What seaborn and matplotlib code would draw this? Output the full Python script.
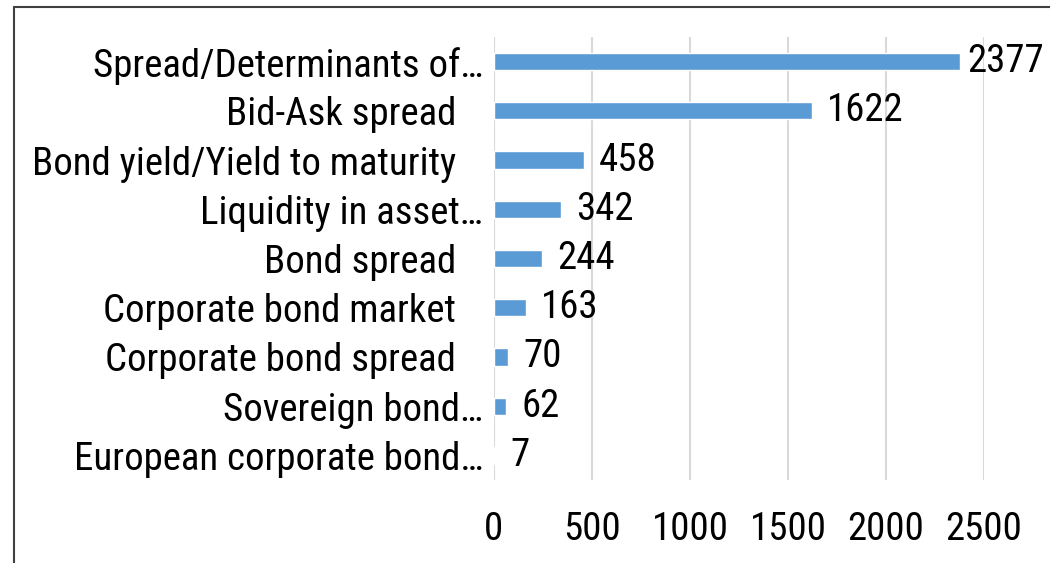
import matplotlib
matplotlib.use("Agg")
import matplotlib.pyplot as plt
import seaborn as sns
import pandas as pd
from matplotlib.lines import Line2D

topics = [
    "Spread/Determinants of\u2026",
    "Bid-Ask spread   ",
    "Bond yield/Yield to maturity   ",
    "Liquidity in asset\u2026",
    "Bond spread   ",
    "Corporate bond market   ",
    "Corporate bond spread   ",
    "Sovereign bond\u2026",
    "European corporate bond\u2026",
]
counts = [2377, 1622, 458, 342, 244, 163, 70, 62, 7]
x_ticks = [0, 500, 1000, 1500, 2000, 2500]

df = pd.DataFrame({"topic": topics, "count": counts})

sns.set_theme(style="white")
plt.rcParams["font.family"] = ["Roboto Condensed", "Lato", "DejaVu Sans"]
FS = 28

fig = plt.figure(figsize=(10.5, 5.63), dpi=100)
W, H = 1050, 563
ax = fig.add_axes([494 / W, 1 - 480 / H, (984 - 494) / W, (480 - 37) / H])

sns.barplot(data=df, y="topic", x="count", orient="h", color="#5B9BD5",
            width=0.35, saturation=1, ax=ax)

ax.set_xlim(0, 2500)
ax.set_xticks(x_ticks)
ax.set_xticklabels([str(t) for t in x_ticks])
ax.set_xlabel("")
ax.set_ylabel("")
for s in ax.spines.values():
    s.set_visible(False)
ax.xaxis.grid(True, color="#D9D9D9", linewidth=1.5)
ax.set_axisbelow(True)
ax.tick_params(axis="x", length=0, pad=22, labelsize=FS, colors="black")
ax.tick_params(axis="y", length=0, pad=8, labelsize=FS, colors="black")

# value labels: the longest bar sits close to the right edge, so its label hugs the bar
bars = ax.containers[0]
first = [str(counts[0])] + [""] * (len(counts) - 1)
rest = [""] + [str(v) for v in counts[1:]]
ax.bar_label(bars, labels=first, padding=5, fontsize=FS, color="black", clip_on=False)
ax.bar_label(bars, labels=rest, padding=11, fontsize=FS, color="black", clip_on=False)

# outer frame (left and top edges)
fig.add_artist(Line2D([14 / W, 14 / W], [0, 1 - 7 / H], transform=fig.transFigure,
                      color="#404040", linewidth=1.5))
fig.add_artist(Line2D([14 / W, 1], [1 - 7 / H, 1 - 7 / H], transform=fig.transFigure,
                      color="#404040", linewidth=1.5))

fig.savefig("out.png", dpi=100)
